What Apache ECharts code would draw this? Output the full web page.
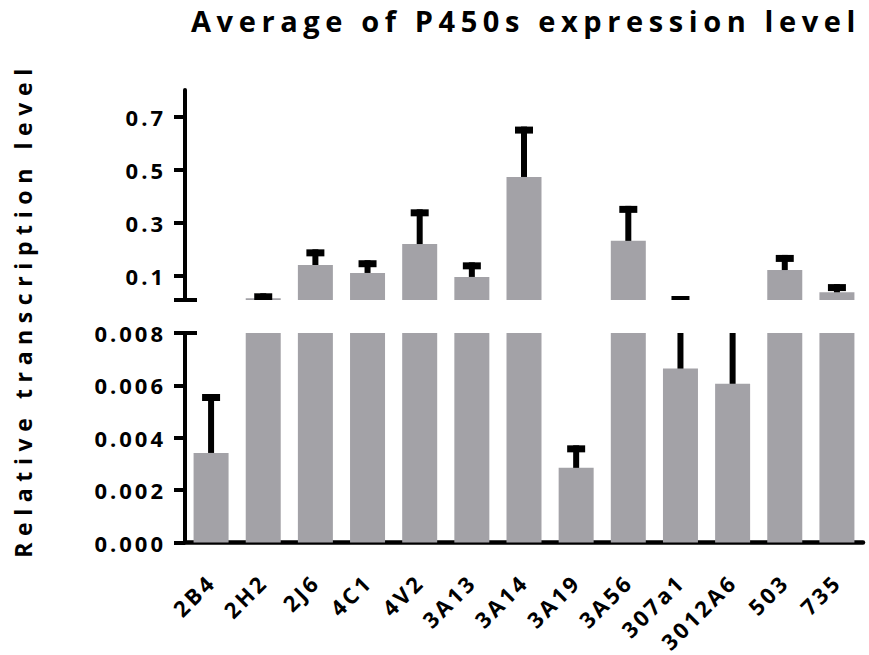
<!DOCTYPE html>
<html>
<head>
<meta charset="utf-8">
<script src="https://cdn.jsdelivr.net/npm/echarts@6/dist/echarts.min.js"></script>
<style>
html, body { margin: 0; padding: 0; background: #fff; }
#chart { width: 869px; height: 655px; }
/* svg text: letter spacing like the original figure */
#chart text[style*="29px"] { letter-spacing: 5.6px; }
#chart text[style*="23px"] { letter-spacing: 6.6px; }
#chart text[style*="22px"] { letter-spacing: 3px; }
</style>
</head>
<body>
<div id="chart"></div>
<script>
// data
const categories = ['2B4', '2H2', '2J6', '4C1', '4V2', '3A13', '3A14', '3A19', '3A56', '307a1', '3012A6', '503', '735']
const means = [0.00342, 0.0144, 0.140, 0.110, 0.219, 0.095, 0.472, 0.00285, 0.231, 0.00664, 0.00606, 0.121, 0.037]
const errors = [0.00225, 0.0189, 0.059, 0.048, 0.131, 0.055, 0.190, 0.00086, 0.132, 0.0165, 0.00222, 0.057, 0.031]

// broken y axis: lower part 0..0.008, upper part 0.008..0.8
const breakValue = 0.008
const upperMax = 0.8
const upperTicks = [0.1, 0.3, 0.5, 0.7]
const lowerInterval = 0.002

const font = "'Open Sans', sans-serif"
const barColor = '#a3a2a7'

const chart = echarts.init(document.getElementById('chart'), null, { renderer: 'svg' })

const errorData = means.map((m, i) => [i, m, m + errors[i]])

// error bar: stem + cap, cut to the panel it belongs to
const renderErrorBar = (params, api) => {
  const i = api.value(0)
  const low = api.coord([i, api.value(1)])
  const high = api.coord([i, api.value(2)])
  const cs = params.coordSys
  const box = { x: cs.x, y: cs.y, width: cs.width, height: cs.height }
  const stem = echarts.graphic.clipRectByRect(
    { x: low[0] - 3, y: high[1], width: 6, height: low[1] - high[1] }, box)
  const cap = echarts.graphic.clipRectByRect(
    { x: low[0] - 9, y: high[1], width: 18, height: 7 }, box)
  const children = []
  if (stem && stem.height > 0.5) children.push({ type: 'rect', shape: stem, style: { fill: '#000' } })
  if (cap && cap.height > 0.5) children.push({ type: 'rect', shape: cap, style: { fill: '#000' } })
  return { type: 'group', children }
}

const tickLabel = {
  color: '#000',
  fontFamily: font,
  fontWeight: 'bold',
  fontSize: 22
}

const options = {
  animation: false,
  title: {
    text: 'Average of P450s expression level',
    left: 521,
    textAlign: 'center',
    top: 1,
    textStyle: {
      color: '#000',
      fontFamily: font,
      fontWeight: 'bold',
      fontSize: 29
    }
  },
  graphic: [
    {
      type: 'text',
      x: 23,
      y: 310,
      rotation: Math.PI / 2,
      style: {
        text: 'Relative transcription level',
        fill: '#000',
        font: "bold 23px 'Open Sans', sans-serif",
        textAlign: 'center',
        textVerticalAlign: 'middle'
      }
    }
  ],
  grid: [
    { left: 185, top: 90, width: 678, height: 210 },
    { left: 185, top: 333, width: 678, height: 209.5 }
  ],
  xAxis: [
    {
      type: 'category',
      gridIndex: 0,
      data: categories,
      show: false
    },
    {
      type: 'category',
      gridIndex: 1,
      data: categories,
      axisLine: { lineStyle: { color: '#000', width: 4.5 } },
      axisTick: { alignWithLabel: true, length: 11, lineStyle: { color: '#000', width: 4 } },
      axisLabel: { ...tickLabel, rotate: 45, interval: 0, margin: 35 }
    }
  ],
  yAxis: [
    {
      type: 'value',
      gridIndex: 0,
      position: 'left',
      min: breakValue,
      max: upperMax,
      axisLine: { show: true, lineStyle: { color: '#000', width: 4 } },
      axisTick: { show: true, length: 11, customValues: [breakValue, ...upperTicks], lineStyle: { color: '#000', width: 4 } },
      axisLabel: { ...tickLabel, margin: 19, customValues: upperTicks, formatter: v => v.toFixed(1) },
      splitLine: { show: false }
    },
    {
      type: 'value',
      gridIndex: 1,
      position: 'left',
      min: 0,
      max: breakValue,
      interval: lowerInterval,
      axisLine: { show: true, lineStyle: { color: '#000', width: 4 } },
      axisTick: { show: true, length: 11, lineStyle: { color: '#000', width: 4 } },
      axisLabel: { ...tickLabel, margin: 19, formatter: v => v.toFixed(3) },
      splitLine: { show: false }
    },
    // inner half of the break marks
    {
      type: 'value',
      gridIndex: 0,
      position: 'left',
      min: breakValue,
      max: upperMax,
      axisLine: { show: false },
      axisTick: { show: true, inside: true, length: 12, customValues: [breakValue], lineStyle: { color: '#000', width: 4 } },
      axisLabel: { show: false },
      splitLine: { show: false }
    },
    {
      type: 'value',
      gridIndex: 1,
      position: 'left',
      min: 0,
      max: breakValue,
      interval: lowerInterval,
      axisLine: { show: false },
      axisTick: { show: true, inside: true, length: 12, customValues: [breakValue], lineStyle: { color: '#000', width: 4 } },
      axisLabel: { show: false },
      splitLine: { show: false }
    }
  ],
  series: [
    {
      type: 'bar',
      xAxisIndex: 0,
      yAxisIndex: 0,
      data: means,
      barWidth: 35,
      clip: true,
      itemStyle: { color: barColor }
    },
    {
      type: 'bar',
      xAxisIndex: 1,
      yAxisIndex: 1,
      data: means,
      barWidth: 35,
      clip: true,
      itemStyle: { color: barColor }
    },
    {
      type: 'custom',
      xAxisIndex: 0,
      yAxisIndex: 0,
      data: errorData,
      encode: { x: 0, y: [1, 2] },
      renderItem: renderErrorBar,
      z: 3
    },
    {
      type: 'custom',
      xAxisIndex: 1,
      yAxisIndex: 1,
      data: errorData,
      encode: { x: 0, y: [1, 2] },
      renderItem: renderErrorBar,
      z: 3
    }
  ]
}

chart.setOption(options)
</script>
</body>
</html>
